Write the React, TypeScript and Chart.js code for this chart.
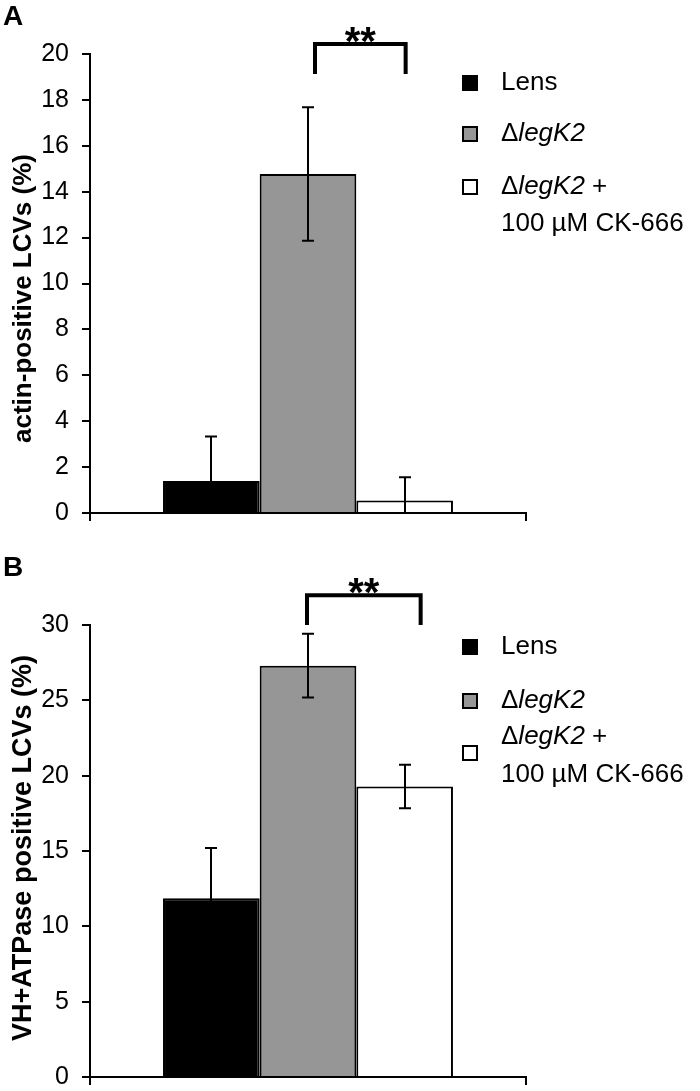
import React, { useEffect, useRef } from "react";
import { Chart, registerables } from "chart.js";

Chart.register(...registerables);

// ---------- data ----------
const CATEGORIES = [""];
const SERIES_LABELS = ["Lens", "ΔlegK2", "ΔlegK2 + 100 µM CK-666"];
const SERIES_COLORS = ["#000000", "#969696", "#ffffff"];
// legend text split in runs (i = italic)
const LEGEND_TEXT = [
  [[{ t: "Lens" }]],
  [[{ t: "Δ" }, { t: "legK2", i: true }]],
  [[{ t: "Δ" }, { t: "legK2", i: true }, { t: " +" }], [{ t: "100 µM CK-666" }]],
];

const A_VALUES = [1.39, 14.77, 0.55];
const A_ERRORS = [1.94, 2.91, 1.01];
const A_Y_MAX = 20;
const A_Y_STEP = 2;
const A_Y_TITLE = "actin-positive LCVs (%)";
const A_SIG = { from: 1, to: 2, top: 20.44, leg: 19.13, label: "**" };

const B_VALUES = [11.86, 27.3, 19.28];
const B_ERRORS = [3.34, 2.12, 1.45];
const B_Y_MAX = 30;
const B_Y_STEP = 5;
const B_Y_TITLE = "VH+ATPase positive LCVs (%)";
const B_SIG = { from: 1, to: 2, top: 31.98, leg: 30, label: "**" };

// ---------- layout / style ----------
const FONT = "'Liberation Sans', Arial, Helvetica, sans-serif";
const W = 700;
const H = 1091;

type Panel = {
  letter: string;
  letterY: number;
  height: number;
  chartTop: number;
  chartBottom: number;
  values: number[];
  errors: number[];
  yMax: number;
  yStep: number;
  yTitle: string;
  titleSize: number;
  titleShift: number;
  sig: { from: number; to: number; top: number; leg: number; label: string };
  sigShift: [number, number];
  legendRows: { sq: number; lines: number[] }[];
};

const PANELS: Panel[] = [
  {
    letter: "A",
    letterY: 25,
    height: 545,
    chartTop: 54,
    chartBottom: 513,
    values: A_VALUES,
    errors: A_ERRORS,
    yMax: A_Y_MAX,
    yStep: A_Y_STEP,
    yTitle: A_Y_TITLE,
    titleSize: 26,
    titleShift: 15,
    sig: A_SIG,
    sigShift: [7, 1],
    legendRows: [
      { sq: 83, lines: [83] },
      { sq: 134, lines: [134] },
      { sq: 187, lines: [187, 224] },
    ],
  },
  {
    letter: "B",
    letterY: 31,
    height: 566, // bottom part is clipped by the page wrapper
    chartTop: 80,
    chartBottom: 532,
    values: B_VALUES,
    errors: B_ERRORS,
    yMax: B_Y_MAX,
    yStep: B_Y_STEP,
    yTitle: B_Y_TITLE,
    titleSize: 27,
    titleShift: -3,
    sig: B_SIG,
    sigShift: [-1, 16],
    legendRows: [
      { sq: 102, lines: [102] },
      { sq: 156, lines: [156] },
      { sq: 208, lines: [192, 230] },
    ],
  },
];

function makeOverlay(p: Panel) {
  return {
    id: "overlay",
    afterDatasetsDraw(chart: any) {
      const ctx = chart.ctx;
      const ys = chart.scales.y;
      const a = chart.chartArea;
      ctx.save();
      ctx.beginPath();
      ctx.rect(a.left, a.top - 3, a.right - a.left, a.bottom - a.top + 3);
      ctx.clip();
      ctx.strokeStyle = "#000";
      ctx.lineWidth = 2;
      chart.data.datasets.forEach((ds: any, di: number) => {
        const meta = chart.getDatasetMeta(di);
        meta.data.forEach((bar: any, i: number) => {
          const v = ds.data[i];
          const e = p.errors[di];
          const x = Math.round(bar.x);
          const yt = ys.getPixelForValue(v + e);
          const yb = ys.getPixelForValue(v - e);
          const cap = 6;
          ctx.beginPath();
          ctx.moveTo(x, yt);
          ctx.lineTo(x, yb);
          ctx.moveTo(x - cap, yt);
          ctx.lineTo(x + cap, yt);
          ctx.moveTo(x - cap, yb);
          ctx.lineTo(x + cap, yb);
          ctx.stroke();
        });
      });
      ctx.restore();
    },
    afterDraw(chart: any) {
      const ctx = chart.ctx;
      const ys = chart.scales.y;
      const a = chart.chartArea;
      ctx.save();
      // panel letter
      ctx.fillStyle = "#000";
      ctx.font = `bold 28px ${FONT}`;
      ctx.textAlign = "left";
      ctx.textBaseline = "alphabetic";
      ctx.fillText(p.letter, 3, p.letterY);

      // y axis title
      ctx.save();
      ctx.translate(24, (a.top + a.bottom) / 2 + p.titleShift);
      ctx.rotate(-Math.PI / 2);
      ctx.font = `bold ${p.titleSize}px ${FONT}`;
      ctx.textAlign = "center";
      ctx.textBaseline = "middle";
      ctx.fillText(p.yTitle, 0, 0);
      ctx.restore();

      // significance bracket
      const b1 = chart.getDatasetMeta(p.sig.from).data[0];
      const b2 = chart.getDatasetMeta(p.sig.to).data[0];
      const x1 = b1.x + p.sigShift[0];
      const x2 = b2.x + p.sigShift[1];
      const yTop = ys.getPixelForValue(p.sig.top);
      const yLeg = ys.getPixelForValue(p.sig.leg);
      ctx.strokeStyle = "#000";
      ctx.lineWidth = 4;
      ctx.lineJoin = "miter";
      ctx.beginPath();
      ctx.moveTo(x1, yLeg);
      ctx.lineTo(x1, yTop);
      ctx.lineTo(x2, yTop);
      ctx.lineTo(x2, yLeg);
      ctx.stroke();
      ctx.font = `bold 40px ${FONT}`;
      ctx.textAlign = "center";
      ctx.textBaseline = "alphabetic";
      ctx.fillText(p.sig.label, (x1 + x2) / 2, yTop + 11);

      // legend
      const sqX = 463;
      const sqS = 14;
      const txtX = 501;
      ctx.textBaseline = "middle";
      ctx.textAlign = "left";
      p.legendRows.forEach((row, k) => {
        ctx.fillStyle = SERIES_COLORS[k];
        ctx.fillRect(sqX, row.sq - sqS / 2, sqS, sqS);
        ctx.strokeStyle = "#000";
        ctx.lineWidth = 2;
        ctx.strokeRect(sqX, row.sq - sqS / 2, sqS, sqS);
        ctx.fillStyle = "#000";
        LEGEND_TEXT[k].forEach((runs, li) => {
          let x = txtX;
          runs.forEach((r: any) => {
            ctx.font = `${r.i ? "italic " : ""}26px ${FONT}`;
            ctx.fillText(r.t, x, row.lines[li]);
            x += ctx.measureText(r.t).width;
          });
        });
      });
      ctx.restore();
    },
  };
}

function PanelChart({ p }: { p: Panel }) {
  const ref = useRef<HTMLCanvasElement | null>(null);
  useEffect(() => {
    if (!ref.current) return;
    const chart = new Chart(ref.current, {
      type: "bar",
      data: {
        labels: CATEGORIES,
        datasets: SERIES_LABELS.map((lab, i) => ({
          label: lab,
          data: [p.values[i]],
          backgroundColor: SERIES_COLORS[i],
          borderColor: "#000",
          borderWidth: 2,
          barPercentage: 1,
          categoryPercentage: 0.665,
        })),
      },
      options: {
        responsive: false,
        animation: false,
        devicePixelRatio: 1,
        layout: { padding: { top: p.chartTop, right: W - 526, left: 0, bottom: 0 } },
        plugins: { legend: { display: false }, tooltip: { enabled: false } },
        scales: {
          x: {
            type: "category",
            afterFit: (s: any) => {
              s.height = p.height - p.chartBottom;
            },
            ticks: { display: false },
            grid: {
              offset: true,
              drawOnChartArea: false,
              drawTicks: true,
              tickLength: 8,
              color: "#000",
              lineWidth: 2,
            },
            border: { display: true, color: "#000", width: 2 },
          },
          y: {
            min: 0,
            max: p.yMax,
            afterFit: (s: any) => {
              s.width = 90;
            },
            ticks: {
              stepSize: p.yStep,
              color: "#000",
              font: { family: FONT, size: 25 },
              padding: 13,
            },
            grid: {
              drawOnChartArea: false,
              drawTicks: true,
              tickLength: 8,
              color: "#000",
              lineWidth: 2,
            },
            border: { display: true, color: "#000", width: 2 },
            title: { display: false },
          },
        },
      },
      plugins: [makeOverlay(p)],
    } as any);
    return () => chart.destroy();
  }, [p]);
  return <canvas ref={ref} width={W} height={p.height} style={{ display: "block", width: W, height: p.height }} />;
}

export default function App() {
  return (
    <div
      style={{
        position: "absolute",
        left: 0,
        top: 0,
        width: W,
        height: H,
        overflow: "hidden",
        background: "#fff",
      }}
    >
      {PANELS.map((p) => (
        <PanelChart key={p.letter} p={p} />
      ))}
    </div>
  );
}
